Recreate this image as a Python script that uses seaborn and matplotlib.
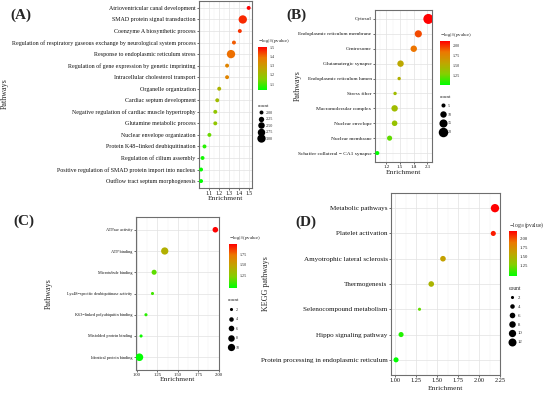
import numpy as np
import pandas as pd
import matplotlib
matplotlib.use('Agg')
import matplotlib.pyplot as plt
import seaborn as sns
from matplotlib.colors import LinearSegmentedColormap, Normalize
from matplotlib.cm import ScalarMappable
from matplotlib.lines import Line2D
from matplotlib.ticker import AutoMinorLocator

# ---- data: panel A (biological process) ----
a_terms = ['Atrioventricular canal development', 'SMAD protein signal transduction',
           'Coenzyme A biosynthetic process',
           'Regulation of respiratory gaseous exchange by neurological system process',
           'Response to endoplasmic reticulum stress',
           'Regulation of gene expression by genetic imprinting',
           'Intracellular cholesterol transport', 'Organelle organization',
           'Cardiac septum development', 'Negative regulation of cardiac muscle hypertrophy',
           'Glutamine metabolic process', 'Nuclear envelope organization',
           'Protein K48\u2212linked deubiquitination', 'Regulation of cilium assembly',
           'Positive regulation of SMAD protein import into nucleus',
           'Outflow tract septum morphogenesis']
a_enrich = [1.50, 1.44, 1.41, 1.35, 1.32, 1.28, 1.28, 1.20, 1.18, 1.16, 1.16, 1.10, 1.05, 1.03, 1.015, 1.015]
a_logp = [1.51, 1.47, 1.46, 1.42, 1.40, 1.36, 1.36, 1.23, 1.21, 1.18, 1.18, 1.13, 1.07, 1.05, 1.04, 1.034]
a_count = [2, 3, 2, 2, 3, 2, 2, 2, 2, 2, 2, 2, 2, 2, 2, 2]

# ---- panel B (cellular component) ----
b_terms = ['Cytosol', 'Endoplasmic reticulum membrane', 'Centrosome', 'Glutamatergic synapse',
           'Endoplasmic reticulum lumen', 'Stress fiber', 'Macromolecular complex',
           'Nuclear envelope', 'Nuclear membrane', 'Schaffer collateral \u2212 CA1 synapse']
b_enrich = [2.12, 1.90, 1.80, 1.51, 1.48, 1.39, 1.38, 1.38, 1.27, 1.00]
b_logp = [2.12, 1.95, 1.85, 1.55, 1.50, 1.42, 1.42, 1.38, 1.22, 1.02]
b_count = [22, 12, 10, 10, 4, 4, 10, 8, 7, 5]

# ---- panel C (molecular function) ----
c_terms = ['ATPase activity', 'ATP binding', 'Microtubule binding',
           'Lys48\u2212specific deubiquitinase activity', 'K63\u2212linked polyubiquitin binding',
           'Misfolded protein binding', 'Identical protein binding']
c_enrich = [1.96, 1.34, 1.21, 1.19, 1.11, 1.05, 1.03]
c_logp = [1.99, 1.42, 1.15, 1.10, 1.05, 1.00, 0.97]
c_count = [6, 10, 5, 2, 2, 2, 11]

# ---- panel D (KEGG) ----
d_terms = ['Metabolic pathways', 'Platelet activation', 'Amyotrophic lateral sclerosis',
           'Thermogenesis', 'Selenocompound metabolism', 'Hippo signaling pathway',
           'Protein processing in endoplasmic reticulum']
d_enrich = [2.19, 2.17, 1.57, 1.43, 1.29, 1.07, 1.01]
d_logp = [2.22, 2.15, 1.62, 1.48, 1.20, 1.05, 0.97]
d_count = [13, 5, 6, 6, 2, 5, 5]

sns.set_style('white')
plt.rcParams['font.family'] = ['Liberation Serif', 'DejaVu Serif']
plt.rcParams['mathtext.fontset'] = 'stix'

W, H = 550, 395
fig = plt.figure(figsize=(W / 100, H / 100), dpi=100)

cmap = LinearSegmentedColormap.from_list(
    'greenred', ['#00FF00', '#84CF00', '#C0A500', '#EC7800', '#FF0000'])


def rect(l, t, r, b):
    return [l / W, 1 - b / H, (r - l) / W, (b - t) / H]


def fx(x):
    return x / W


def fy(y):
    return 1 - y / H


def panel(letter, terms, enrich, logp, count, ax_box, xlim, xticks, xfmt,
          yfs, xfs, cb_box, cb_range, cb_ticks, cbfmt, cb_fs, breaks, bfmt, leg_xy,
          leg_space, sizes, ylab, ylab_xy, xlab_xy, letter_xy):
    df = pd.DataFrame({'term': terms, 'Enrichment': enrich, 'logp': logp, 'count': count})
    ax = fig.add_axes(rect(*ax_box))
    cmin, cmax = min(count), max(count)
    sns.scatterplot(data=df, x='Enrichment', y='term', hue='logp', size='count',
                    palette=cmap, hue_norm=cb_range, sizes=sizes, size_norm=(cmin, cmax),
                    edgecolor='none', legend=False, ax=ax, zorder=3)
    n = len(terms)
    ax.set_ylim(n - 1 + 0.6, -0.6)
    ax.set_xlim(*xlim)
    ax.set_xticks(xticks)
    ax.set_xticklabels([xfmt.format(v) for v in xticks])
    ax.xaxis.set_minor_locator(AutoMinorLocator(2))
    ax.grid(True, which='major', color='#E2E2E2', lw=0.5)
    ax.grid(True, which='minor', axis='x', color='#F0F0F0', lw=0.35)
    ax.set_axisbelow(True)
    for s in ax.spines.values():
        s.set_color('#6E6E6E')
        s.set_linewidth(0.8)
    ax.tick_params(axis='y', labelsize=yfs, length=1.5, width=0.5, pad=1, colors='#333333',
                   labelcolor='#111111', left=True)
    ax.tick_params(axis='x', labelsize=xfs, length=1.5, width=0.5, pad=0.8, colors='#333333',
                   labelcolor='#111111', bottom=True)
    ax.tick_params(which='minor', length=0)
    ax.set_xlabel('')
    ax.set_ylabel('')
    fig.text(fx(xlab_xy[0]), fy(xlab_xy[1]), 'Enrichment', fontsize=5.4,
             ha='center', va='center')
    fig.text(fx(ylab_xy[0]), fy(ylab_xy[1]), ylab, fontsize=5.8, rotation=90,
             ha='center', va='center')
    fig.text(fx(letter_xy[0]), fy(letter_xy[1]), letter, fontsize=11, fontweight='bold',
             ha='center', va='center')

    # colour bar
    cax = fig.add_axes(rect(*cb_box))
    cb = fig.colorbar(ScalarMappable(norm=Normalize(*cb_range), cmap=cmap), cax=cax)
    cb.outline.set_visible(False)
    cb.set_ticks(cb_ticks)
    cb.set_ticklabels([cbfmt.format(v) for v in cb_ticks])
    cax.tick_params(labelsize=cb_fs, length=1.2, width=0.4, color='white',
                    direction='in', pad=2)
    fig.text(cb_box[0] / W, fy(cb_box[1] - 6), r'$-$log$_{10}$(pvalue)',
             fontsize=cb_fs + 0.6, ha='left', va='center')

    # size legend
    def area(c):
        return sizes[0] + (c - cmin) / (cmax - cmin) * (sizes[1] - sizes[0])
    handles = [Line2D([], [], marker='o', ls='', color='black', mec='none',
                      markersize=np.sqrt(area(b))) for b in breaks]
    fig.legend(handles, [bfmt.format(b) for b in breaks], title='count',
               loc='upper left', bbox_to_anchor=(fx(leg_xy[0]), fy(leg_xy[1])),
               frameon=False, fontsize=cb_fs, title_fontsize=cb_fs + 0.6,
               labelspacing=leg_space, handletextpad=0.6, handlelength=1.2,
               borderpad=0, borderaxespad=0, alignment='left')
    return ax


panel('(A)', a_terms, a_enrich, a_logp, a_count, (199, 1, 252, 188),
      (0.994, 1.534), [1.1, 1.2, 1.3, 1.4, 1.5], '{:.1f}', 4.3, 4.1,
      (258, 46.7, 267, 90), (1.034, 1.511), [1.1, 1.2, 1.3, 1.4, 1.5], '{:.1f}', 3.0,
      [2, 2.25, 2.5, 2.75, 3], '{:.2f}', (258, 104), 0.62, (8, 36),
      'Pathways', (5, 94), (225.5, 198.5), (21, 15))

panel('(B)', b_terms, b_enrich, b_logp, b_count, (375, 10, 432, 162),
      (0.95, 2.2), [1.2, 1.5, 1.8, 2.1], '{:.1f}', 3.9, 3.6,
      (440, 41, 450, 85), (1.02, 2.12), [1.25, 1.5, 1.75, 2.0], '{:.2f}', 3.0,
      [5, 10, 15, 20], '{:d}', (440, 95), 1.15, (6, 52),
      'Pathways', (298, 86), (403.5, 172), (296, 15))

panel('(C)', c_terms, c_enrich, c_logp, c_count, (136, 217, 219, 370),
      (0.988, 2.005), [1.0, 1.25, 1.5, 1.75, 2.0], '{:.2f}', 3.1, 3.3,
      (228.7, 244, 236.7, 287.7), (0.97, 1.99), [1.25, 1.5, 1.75], '{:.2f}', 3.0,
      [2, 4, 6, 8, 10], '{:d}', (228, 298), 1.34, (5, 30),
      'Pathways', (49, 293.5), (177.7, 379.5), (23.5, 221))

panel('(D)', d_terms, d_enrich, d_logp, d_count, (391, 193, 500, 375),
      (0.95, 2.25), [1.0, 1.25, 1.5, 1.75, 2.0, 2.25], '{:.2f}', 5.1, 4.5,
      (509, 231, 517, 276), (0.97, 2.22), [1.25, 1.5, 1.75, 2.0], '{:.2f}', 3.4,
      [2, 4, 6, 8, 10, 12], '{:d}', (509, 286), 0.97, (5, 36),
      'KEGG pathways', (265.7, 284), (445.5, 389), (306, 222))

fig.savefig('out.png', dpi=100)
